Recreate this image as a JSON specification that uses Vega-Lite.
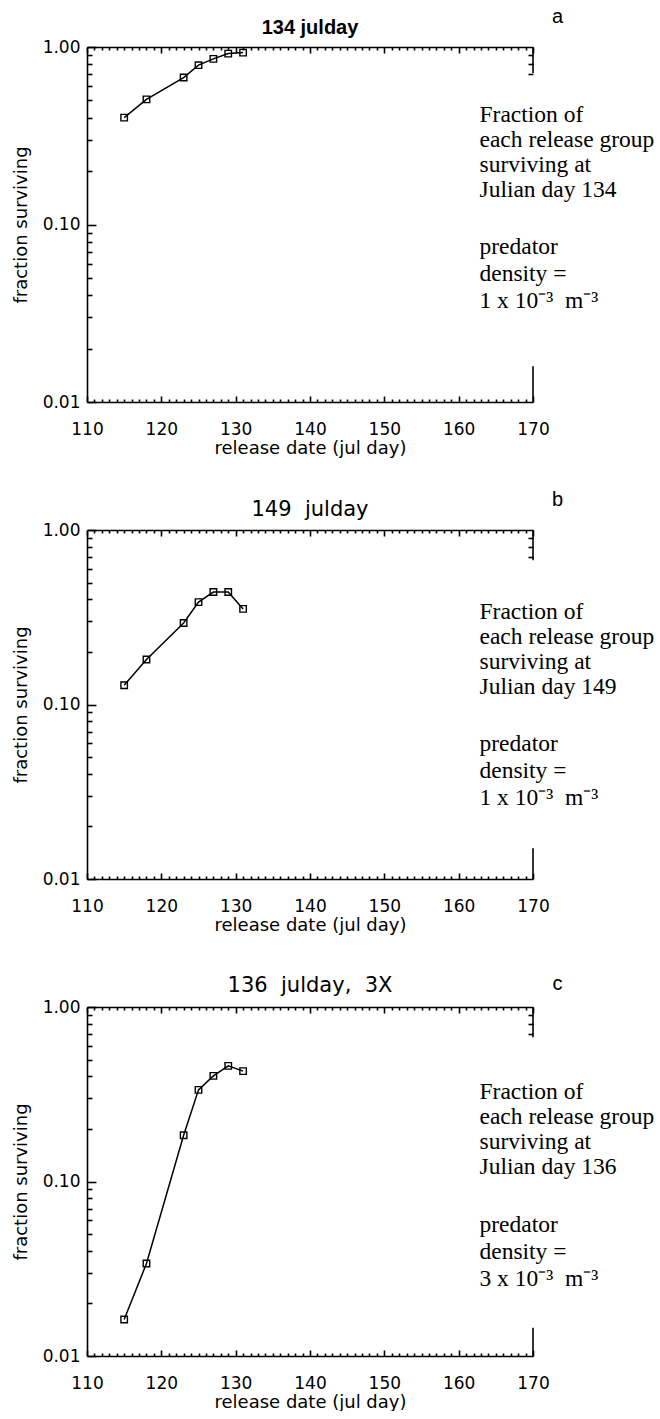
{
  "$schema": "https://vega.github.io/schema/vega-lite/v6.json",
  "background": "white",
  "padding": {"left": 12, "top": 7, "right": 0, "bottom": 0},
  "datasets": {
    "a": [
      {"day": 115, "frac": 0.40},
      {"day": 118, "frac": 0.507},
      {"day": 123, "frac": 0.673},
      {"day": 125, "frac": 0.79},
      {"day": 127, "frac": 0.857},
      {"day": 129, "frac": 0.918},
      {"day": 131, "frac": 0.93}
    ],
    "b": [
      {"day": 115, "frac": 0.129},
      {"day": 118, "frac": 0.181},
      {"day": 123, "frac": 0.293},
      {"day": 125, "frac": 0.386},
      {"day": 127, "frac": 0.441},
      {"day": 129, "frac": 0.441},
      {"day": 131, "frac": 0.353}
    ],
    "c": [
      {"day": 115, "frac": 0.0162},
      {"day": 118, "frac": 0.0339},
      {"day": 123, "frac": 0.184},
      {"day": 125, "frac": 0.335},
      {"day": 127, "frac": 0.403},
      {"day": 129, "frac": 0.46},
      {"day": 131, "frac": 0.429}
    ]
  },
  "config": {
    "view": {"stroke": null},
    "axis": {
      "grid": false,
      "domainColor": "black",
      "domainWidth": 1.6,
      "tickColor": "black",
      "tickWidth": 1.6,
      "labelColor": "black",
      "labelFont": "DejaVu Sans",
      "labelFontSize": 17,
      "labelFlush": false,
      "labelOverlap": false,
      "titleColor": "black",
      "titleFont": "DejaVu Sans",
      "titleFontSize": 18,
      "titleFontWeight": "normal"
    }
  },
  "vconcat": [
    {
      "width": 446,
      "height": 355,
      "data": {"name": "a"},
      "layer": [
        {
          "mark": {"type": "line", "color": "black", "strokeWidth": 1.5},
          "encoding": {
            "x": {"field": "day", "type": "quantitative", "scale": {"domain": [110, 170], "nice": false, "zero": false},
              "axis": {"orient": "bottom", "values": [110, 120, 130, 140, 150, 160, 170], "ticks": false, "labelPadding": 19, "title": "release date (jul day)", "titlePadding": 2}},
            "y": {"field": "frac", "type": "quantitative", "scale": {"type": "log", "domain": [0.01, 1], "nice": false},
              "axis": {"orient": "left", "values": [0.01, 0.1, 1], "format": ".2f", "ticks": false, "labelPadding": 7, "title": "fraction surviving", "titlePadding": 12}}
          }
        },
        {
          "mark": {"type": "point", "shape": "square", "filled": false, "color": "black", "size": 42, "strokeWidth": 1.4, "opacity": 1},
          "encoding": {
            "x": {"field": "day", "type": "quantitative", "axis": null},
            "y": {"field": "frac", "type": "quantitative", "axis": null}
          }
        },
        {
          "mark": {"type": "point", "opacity": 0},
          "encoding": {
            "x": {"field": "day", "type": "quantitative", "axis": {"orient": "top", "offset": -355, "values": [110, 120, 130, 140, 150, 160, 170], "tickSize": 6, "labels": false, "domain": false, "title": null}},
            "y": {"field": "frac", "type": "quantitative", "axis": {"orient": "right", "offset": -446, "values": [0.01, 0.1, 1], "tickSize": 9, "labels": false, "domain": false, "title": null}}
          }
        },
        {
          "mark": {"type": "point", "opacity": 0},
          "encoding": {
            "x": {"field": "day", "type": "quantitative", "axis": {"orient": "top", "offset": -355, "values": [111,112,113,114,115,116,117,118,119,121,122,123,124,125,126,127,128,129,131,132,133,134,135,136,137,138,139,141,142,143,144,145,146,147,148,149,151,152,153,154,155,156,157,158,159,161,162,163,164,165,166,167,168,169], "tickSize": 3, "labels": false, "domain": false, "title": null}},
            "y": {"field": "frac", "type": "quantitative", "axis": {"orient": "right", "offset": -446, "values": [0.02,0.03,0.04,0.05,0.06,0.07,0.08,0.09,0.2,0.3,0.4,0.5,0.6,0.7,0.8,0.9], "tickSize": 5, "labels": false, "domain": false, "title": null}}
          }
        },
        {
          "mark": {"type": "point", "opacity": 0},
          "encoding": {
            "x": {"field": "day", "type": "quantitative", "axis": {"orient": "bottom", "offset": -355, "values": [110, 120, 130, 140, 150, 160, 170], "tickSize": 6, "labels": false, "domain": false, "title": null}},
            "y": {"field": "frac", "type": "quantitative", "axis": {"orient": "left", "offset": -446, "values": [0.7, 0.8, 0.9], "tickSize": 5, "labels": false, "domain": false, "title": null}}
          }
        },
        {
          "mark": {"type": "point", "opacity": 0},
          "encoding": {
            "x": {"field": "day", "type": "quantitative", "axis": {"orient": "bottom", "offset": -355, "values": [111,112,113,114,115,116,117,118,119,121,122,123,124,125,126,127,128,129,131,132,133,134,135,136,137,138,139,141,142,143,144,145,146,147,148,149,151,152,153,154,155,156,157,158,159,161,162,163,164,165,166,167,168,169], "tickSize": 3, "labels": false, "domain": false, "title": null}},
            "y": {"field": "frac", "type": "quantitative", "axis": null}
          }
        },
        {
          "mark": {"type": "point", "opacity": 0},
          "encoding": {
            "x": {"field": "day", "type": "quantitative", "axis": {"orient": "top", "ticks": false, "labels": false, "domain": true, "title": null}},
            "y": {"field": "frac", "type": "quantitative", "axis": null}
          }
        },
        {
          "data": {"values": [{"seg": "top"}]},
          "mark": {"type": "rule", "color": "black", "strokeWidth": 1.6},
          "encoding": {
            "x": {"datum": 170, "type": "quantitative", "axis": null},
            "y": {"datum": 1, "type": "quantitative", "axis": null},
            "y2": {"datum": 0.714}
          }
        },
        {
          "data": {"values": [{"seg": "bottom"}]},
          "mark": {"type": "rule", "color": "black", "strokeWidth": 1.6},
          "encoding": {
            "x": {"datum": 170, "type": "quantitative", "axis": null},
            "y": {"datum": 0.0159, "type": "quantitative", "axis": null},
            "y2": {"datum": 0.01}
          }
        },
        {
          "data": {"values": [{"note": "title"}]},
          "mark": {"type": "text", "align": "center", "baseline": "middle", "font": "Liberation Sans", "fontSize": 20, "fontWeight": "bold", "color": "black", "text": "134 julday"},
          "encoding": {
            "x": {"datum": 140, "type": "quantitative", "axis": null},
            "y": {"datum": 1.273, "type": "quantitative", "axis": null}
          }
        },
        {
          "data": {"values": [{"note": "block1"}]},
          "mark": {"type": "text", "align": "left", "baseline": "top", "font": "Liberation Serif", "fontSize": 23.5, "lineHeight": 25, "color": "black",
            "text": ["Fraction of", "each release group", "surviving at", "Julian day 134"]},
          "encoding": {
            "x": {"datum": 162.8, "type": "quantitative", "axis": null},
            "y": {"datum": 0.483, "type": "quantitative", "axis": null}
          }
        },
        {
          "data": {"values": [{"note": "block2"}]},
          "mark": {"type": "text", "align": "left", "baseline": "top", "font": "Liberation Serif", "fontSize": 23.5, "lineHeight": 27, "color": "black",
            "text": ["predator", "density =", "1 x 10⁻³\u00a0\u00a0m⁻³"]},
          "encoding": {
            "x": {"datum": 162.8, "type": "quantitative", "axis": null},
            "y": {"datum": 0.0875, "type": "quantitative", "axis": null}
          }
        },
        {
          "data": {"values": [{"note": "letter"}]},
          "mark": {"type": "text", "align": "center", "baseline": "middle", "font": "Liberation Sans", "fontSize": 20, "color": "black", "text": "a"},
          "encoding": {
            "x": {"datum": 173.3, "type": "quantitative", "axis": null},
            "y": {"datum": 1.469, "type": "quantitative", "axis": null}
          }
        }
      ],
      "resolve": {"axis": {"x": "independent", "y": "independent"}}
    },
    {
      "width": 446,
      "height": 349,
      "data": {"name": "b"},
      "layer": [
        {
          "mark": {"type": "line", "color": "black", "strokeWidth": 1.5},
          "encoding": {
            "x": {"field": "day", "type": "quantitative", "scale": {"domain": [110, 170], "nice": false, "zero": false},
              "axis": {"orient": "bottom", "values": [110, 120, 130, 140, 150, 160, 170], "ticks": false, "labelPadding": 19, "title": "release date (jul day)", "titlePadding": 2}},
            "y": {"field": "frac", "type": "quantitative", "scale": {"type": "log", "domain": [0.01, 1], "nice": false},
              "axis": {"orient": "left", "values": [0.01, 0.1, 1], "format": ".2f", "ticks": false, "labelPadding": 7, "title": "fraction surviving", "titlePadding": 12}}
          }
        },
        {
          "mark": {"type": "point", "shape": "square", "filled": false, "color": "black", "size": 42, "strokeWidth": 1.4, "opacity": 1},
          "encoding": {
            "x": {"field": "day", "type": "quantitative", "axis": null},
            "y": {"field": "frac", "type": "quantitative", "axis": null}
          }
        },
        {
          "mark": {"type": "point", "opacity": 0},
          "encoding": {
            "x": {"field": "day", "type": "quantitative", "axis": {"orient": "top", "offset": -349, "values": [110, 120, 130, 140, 150, 160, 170], "tickSize": 6, "labels": false, "domain": false, "title": null}},
            "y": {"field": "frac", "type": "quantitative", "axis": {"orient": "right", "offset": -446, "values": [0.01, 0.1, 1], "tickSize": 9, "labels": false, "domain": false, "title": null}}
          }
        },
        {
          "mark": {"type": "point", "opacity": 0},
          "encoding": {
            "x": {"field": "day", "type": "quantitative", "axis": {"orient": "top", "offset": -349, "values": [111,112,113,114,115,116,117,118,119,121,122,123,124,125,126,127,128,129,131,132,133,134,135,136,137,138,139,141,142,143,144,145,146,147,148,149,151,152,153,154,155,156,157,158,159,161,162,163,164,165,166,167,168,169], "tickSize": 3, "labels": false, "domain": false, "title": null}},
            "y": {"field": "frac", "type": "quantitative", "axis": {"orient": "right", "offset": -446, "values": [0.02,0.03,0.04,0.05,0.06,0.07,0.08,0.09,0.2,0.3,0.4,0.5,0.6,0.7,0.8,0.9], "tickSize": 5, "labels": false, "domain": false, "title": null}}
          }
        },
        {
          "mark": {"type": "point", "opacity": 0},
          "encoding": {
            "x": {"field": "day", "type": "quantitative", "axis": {"orient": "bottom", "offset": -349, "values": [110, 120, 130, 140, 150, 160, 170], "tickSize": 6, "labels": false, "domain": false, "title": null}},
            "y": {"field": "frac", "type": "quantitative", "axis": {"orient": "left", "offset": -446, "values": [0.7, 0.8, 0.9], "tickSize": 5, "labels": false, "domain": false, "title": null}}
          }
        },
        {
          "mark": {"type": "point", "opacity": 0},
          "encoding": {
            "x": {"field": "day", "type": "quantitative", "axis": {"orient": "bottom", "offset": -349, "values": [111,112,113,114,115,116,117,118,119,121,122,123,124,125,126,127,128,129,131,132,133,134,135,136,137,138,139,141,142,143,144,145,146,147,148,149,151,152,153,154,155,156,157,158,159,161,162,163,164,165,166,167,168,169], "tickSize": 3, "labels": false, "domain": false, "title": null}},
            "y": {"field": "frac", "type": "quantitative", "axis": null}
          }
        },
        {
          "mark": {"type": "point", "opacity": 0},
          "encoding": {
            "x": {"field": "day", "type": "quantitative", "axis": {"orient": "top", "ticks": false, "labels": false, "domain": true, "title": null}},
            "y": {"field": "frac", "type": "quantitative", "axis": null}
          }
        },
        {
          "data": {"values": [{"seg": "top"}]},
          "mark": {"type": "rule", "color": "black", "strokeWidth": 1.6},
          "encoding": {
            "x": {"datum": 170, "type": "quantitative", "axis": null},
            "y": {"datum": 1, "type": "quantitative", "axis": null},
            "y2": {"datum": 0.67}
          }
        },
        {
          "data": {"values": [{"seg": "bottom"}]},
          "mark": {"type": "rule", "color": "black", "strokeWidth": 1.6},
          "encoding": {
            "x": {"datum": 170, "type": "quantitative", "axis": null},
            "y": {"datum": 0.015, "type": "quantitative", "axis": null},
            "y2": {"datum": 0.01}
          }
        },
        {
          "data": {"values": [{"note": "title"}]},
          "mark": {"type": "text", "align": "center", "baseline": "middle", "font": "DejaVu Sans", "fontSize": 21, "color": "black", "text": "149\u00a0 julday"},
          "encoding": {
            "x": {"datum": 140, "type": "quantitative", "axis": null},
            "y": {"datum": 1.31, "type": "quantitative", "axis": null}
          }
        },
        {
          "data": {"values": [{"note": "block1"}]},
          "mark": {"type": "text", "align": "left", "baseline": "top", "font": "Liberation Serif", "fontSize": 23.5, "lineHeight": 25, "color": "black",
            "text": ["Fraction of", "each release group", "surviving at", "Julian day 149"]},
          "encoding": {
            "x": {"datum": 162.8, "type": "quantitative", "axis": null},
            "y": {"datum": 0.398, "type": "quantitative", "axis": null}
          }
        },
        {
          "data": {"values": [{"note": "block2"}]},
          "mark": {"type": "text", "align": "left", "baseline": "top", "font": "Liberation Serif", "fontSize": 23.5, "lineHeight": 27, "color": "black",
            "text": ["predator", "density =", "1 x 10⁻³\u00a0\u00a0m⁻³"]},
          "encoding": {
            "x": {"datum": 162.8, "type": "quantitative", "axis": null},
            "y": {"datum": 0.070, "type": "quantitative", "axis": null}
          }
        },
        {
          "data": {"values": [{"note": "letter"}]},
          "mark": {"type": "text", "align": "center", "baseline": "middle", "font": "Liberation Sans", "fontSize": 20, "color": "black", "text": "b"},
          "encoding": {
            "x": {"datum": 173.3, "type": "quantitative", "axis": null},
            "y": {"datum": 1.48, "type": "quantitative", "axis": null}
          }
        }
      ],
      "resolve": {"axis": {"x": "independent", "y": "independent"}}
    },
    {
      "width": 446,
      "height": 349,
      "data": {"name": "c"},
      "layer": [
        {
          "mark": {"type": "line", "color": "black", "strokeWidth": 1.5},
          "encoding": {
            "x": {"field": "day", "type": "quantitative", "scale": {"domain": [110, 170], "nice": false, "zero": false},
              "axis": {"orient": "bottom", "values": [110, 120, 130, 140, 150, 160, 170], "ticks": false, "labelPadding": 19, "title": "release date (jul day)", "titlePadding": 2}},
            "y": {"field": "frac", "type": "quantitative", "scale": {"type": "log", "domain": [0.01, 1], "nice": false},
              "axis": {"orient": "left", "values": [0.01, 0.1, 1], "format": ".2f", "ticks": false, "labelPadding": 7, "title": "fraction surviving", "titlePadding": 12}}
          }
        },
        {
          "mark": {"type": "point", "shape": "square", "filled": false, "color": "black", "size": 42, "strokeWidth": 1.4, "opacity": 1},
          "encoding": {
            "x": {"field": "day", "type": "quantitative", "axis": null},
            "y": {"field": "frac", "type": "quantitative", "axis": null}
          }
        },
        {
          "mark": {"type": "point", "opacity": 0},
          "encoding": {
            "x": {"field": "day", "type": "quantitative", "axis": {"orient": "top", "offset": -349, "values": [110, 120, 130, 140, 150, 160, 170], "tickSize": 6, "labels": false, "domain": false, "title": null}},
            "y": {"field": "frac", "type": "quantitative", "axis": {"orient": "right", "offset": -446, "values": [0.01, 0.1, 1], "tickSize": 9, "labels": false, "domain": false, "title": null}}
          }
        },
        {
          "mark": {"type": "point", "opacity": 0},
          "encoding": {
            "x": {"field": "day", "type": "quantitative", "axis": {"orient": "top", "offset": -349, "values": [111,112,113,114,115,116,117,118,119,121,122,123,124,125,126,127,128,129,131,132,133,134,135,136,137,138,139,141,142,143,144,145,146,147,148,149,151,152,153,154,155,156,157,158,159,161,162,163,164,165,166,167,168,169], "tickSize": 3, "labels": false, "domain": false, "title": null}},
            "y": {"field": "frac", "type": "quantitative", "axis": {"orient": "right", "offset": -446, "values": [0.02,0.03,0.04,0.05,0.06,0.07,0.08,0.09,0.2,0.3,0.4,0.5,0.6,0.7,0.8,0.9], "tickSize": 5, "labels": false, "domain": false, "title": null}}
          }
        },
        {
          "mark": {"type": "point", "opacity": 0},
          "encoding": {
            "x": {"field": "day", "type": "quantitative", "axis": {"orient": "bottom", "offset": -349, "values": [110, 120, 130, 140, 150, 160, 170], "tickSize": 6, "labels": false, "domain": false, "title": null}},
            "y": {"field": "frac", "type": "quantitative", "axis": {"orient": "left", "offset": -446, "values": [0.7, 0.8, 0.9], "tickSize": 5, "labels": false, "domain": false, "title": null}}
          }
        },
        {
          "mark": {"type": "point", "opacity": 0},
          "encoding": {
            "x": {"field": "day", "type": "quantitative", "axis": {"orient": "bottom", "offset": -349, "values": [111,112,113,114,115,116,117,118,119,121,122,123,124,125,126,127,128,129,131,132,133,134,135,136,137,138,139,141,142,143,144,145,146,147,148,149,151,152,153,154,155,156,157,158,159,161,162,163,164,165,166,167,168,169], "tickSize": 3, "labels": false, "domain": false, "title": null}},
            "y": {"field": "frac", "type": "quantitative", "axis": null}
          }
        },
        {
          "mark": {"type": "point", "opacity": 0},
          "encoding": {
            "x": {"field": "day", "type": "quantitative", "axis": {"orient": "top", "ticks": false, "labels": false, "domain": true, "title": null}},
            "y": {"field": "frac", "type": "quantitative", "axis": null}
          }
        },
        {
          "data": {"values": [{"seg": "top"}]},
          "mark": {"type": "rule", "color": "black", "strokeWidth": 1.6},
          "encoding": {
            "x": {"datum": 170, "type": "quantitative", "axis": null},
            "y": {"datum": 1, "type": "quantitative", "axis": null},
            "y2": {"datum": 0.67}
          }
        },
        {
          "data": {"values": [{"seg": "bottom"}]},
          "mark": {"type": "rule", "color": "black", "strokeWidth": 1.6},
          "encoding": {
            "x": {"datum": 170, "type": "quantitative", "axis": null},
            "y": {"datum": 0.0145, "type": "quantitative", "axis": null},
            "y2": {"datum": 0.01}
          }
        },
        {
          "data": {"values": [{"note": "title"}]},
          "mark": {"type": "text", "align": "center", "baseline": "middle", "font": "DejaVu Sans", "fontSize": 21, "color": "black", "text": "136\u00a0 julday,\u00a0 3X"},
          "encoding": {
            "x": {"datum": 140, "type": "quantitative", "axis": null},
            "y": {"datum": 1.327, "type": "quantitative", "axis": null}
          }
        },
        {
          "data": {"values": [{"note": "block1"}]},
          "mark": {"type": "text", "align": "left", "baseline": "top", "font": "Liberation Serif", "fontSize": 23.5, "lineHeight": 25, "color": "black",
            "text": ["Fraction of", "each release group", "surviving at", "Julian day 136"]},
          "encoding": {
            "x": {"datum": 162.8, "type": "quantitative", "axis": null},
            "y": {"datum": 0.381, "type": "quantitative", "axis": null}
          }
        },
        {
          "data": {"values": [{"note": "block2"}]},
          "mark": {"type": "text", "align": "left", "baseline": "top", "font": "Liberation Serif", "fontSize": 23.5, "lineHeight": 27, "color": "black",
            "text": ["predator", "density =", "3 x 10⁻³\u00a0\u00a0m⁻³"]},
          "encoding": {
            "x": {"datum": 162.8, "type": "quantitative", "axis": null},
            "y": {"datum": 0.066, "type": "quantitative", "axis": null}
          }
        },
        {
          "data": {"values": [{"note": "letter"}]},
          "mark": {"type": "text", "align": "center", "baseline": "middle", "font": "Liberation Sans", "fontSize": 20, "color": "black", "text": "c"},
          "encoding": {
            "x": {"datum": 173.3, "type": "quantitative", "axis": null},
            "y": {"datum": 1.36, "type": "quantitative", "axis": null}
          }
        }
      ],
      "resolve": {"axis": {"x": "independent", "y": "independent"}}
    }
  ],
  "spacing": 128,
  "bounds": "flush"
}
